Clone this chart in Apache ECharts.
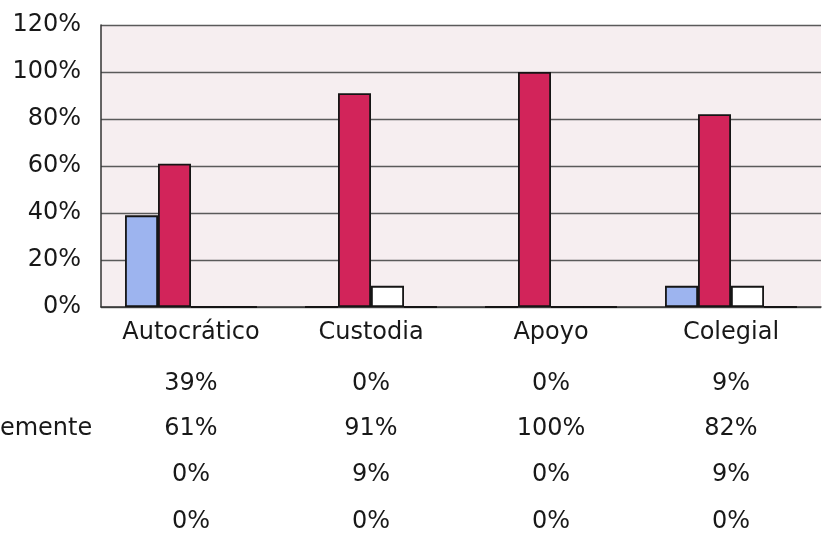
<!DOCTYPE html>
<html>
<head>
<meta charset="utf-8">
<script src="https://cdn.jsdelivr.net/npm/echarts@6/dist/echarts.min.js"></script>
<style>
  html, body { margin: 0; padding: 0; background: #fff; }
  #chart { width: 826px; height: 534px; }
</style>
</head>
<body>
<div id="chart"></div>
<script>
// categorias y valores (en %)
var categorias = ['Autocrático', 'Custodia', 'Apoyo', 'Colegial'];
var serie1 = [39, 0, 0, 9];
var serie2 = [61, 91, 100, 82];   // Frecuentemente
var serie3 = [0, 9, 0, 9];
var serie4 = [0, 0, 0, 0];
var filas = [serie1, serie2, serie3, serie4];
var etiquetaFila2 = 'Frecuentemente';

var fuente = 'DejaVu Sans';
var colores = ['#9db4ef', '#d2245a', '#ffffff', '#ffffff'];
var offsets = [51, 96, 142, 189];

var chart = echarts.init(document.getElementById('chart'));

// ejes extra para la tabla de datos debajo de la grafica
var ejesTabla = filas.map(function (fila, i) {
    return {
        type: 'category',
        data: categorias,
        position: 'bottom',
        offset: offsets[i],
        axisLine: { show: false },
        axisTick: { show: false },
        splitLine: { show: false },
        axisLabel: {
            margin: 14,
            interval: 0,
            fontFamily: fuente,
            fontSize: 24,
            color: '#181818',
            formatter: function (v, idx) { return fila[idx] + '%'; }
        }
    };
});

var option = {
    backgroundColor: '#fff',
    animation: false,
    grid: {
        left: 101, right: 5, top: 25, bottom: 227,
        show: true,
        backgroundColor: '#f6eef0',
        borderWidth: 0
    },
    xAxis: [{
        type: 'category',
        data: categorias,
        axisLine: { show: true, lineStyle: { color: '#333', width: 1.5 } },
        axisTick: { show: false },
        axisLabel: { margin: 14, interval: 0, fontFamily: fuente, fontSize: 24, color: '#181818' }
    }].concat(ejesTabla),
    yAxis: {
        type: 'value',
        min: 0, max: 120, interval: 20,
        axisLine: { show: true, lineStyle: { color: '#333', width: 1.5 } },
        axisTick: { show: false },
        splitLine: { show: true, lineStyle: { color: '#5a5a5a', width: 1.3 } },
        axisLabel: { margin: 20, fontFamily: fuente, fontSize: 24, color: '#181818', formatter: '{value}%' }
    },
    graphic: [{
        type: 'text',
        left: -104, top: 417,
        style: { text: etiquetaFila2, font: '24px "DejaVu Sans"', fill: '#181818' }
    }],
    series: filas.map(function (fila, i) {
        return {
            name: i === 1 ? etiquetaFila2 : 'Serie ' + (i + 1),
            type: 'bar',
            xAxisIndex: 0,
            data: fila,
            barGap: '0%',
            barCategoryGap: '26.7%',
            itemStyle: { color: colores[i], borderColor: '#151515', borderWidth: 1.8 }
        };
    })
};

chart.setOption(option);
</script>
</body>
</html>
